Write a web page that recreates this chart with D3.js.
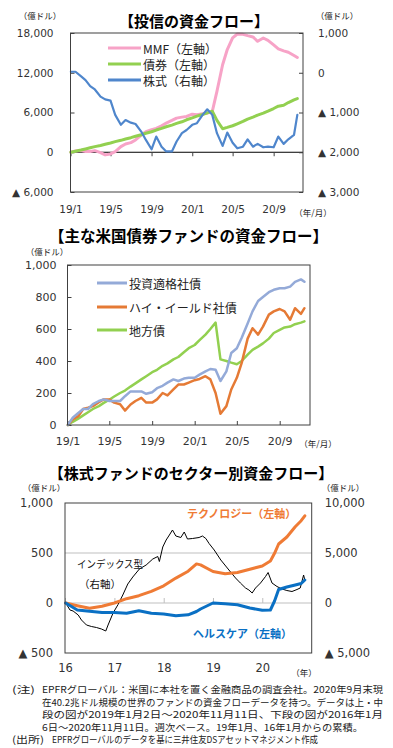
<!DOCTYPE html>
<html>
<head>
<meta charset="utf-8">
<script src="https://cdn.jsdelivr.net/npm/d3@7"></script>
<style>
  body { margin: 0; background: #fff; }
  svg text { font-family: "Noto Sans CJK JP", "DejaVu Sans", sans-serif; }
  .num text, text.num { font-family: "DejaVu Sans", sans-serif; fill: #333; }
</style>
</head>
<body>
<svg id="chart" width="393" height="748"></svg>
<script>
// ---- data ----
// half-monthly dates, 2019/1/2 - 2020/11/11 (top and middle panels)
const flowDates = [
  '2019-01-02','2019-01-16','2019-02-01','2019-02-15','2019-03-01','2019-03-15','2019-04-01','2019-04-15',
  '2019-05-01','2019-05-15','2019-06-01','2019-06-15','2019-07-01','2019-07-15','2019-08-01','2019-08-15',
  '2019-09-01','2019-09-15','2019-10-01','2019-10-15','2019-11-01','2019-11-15','2019-12-01','2019-12-15',
  '2020-01-01','2020-01-15','2020-02-01','2020-02-15','2020-03-01','2020-03-15','2020-04-01','2020-04-15',
  '2020-05-01','2020-05-15','2020-06-01','2020-06-15','2020-07-01','2020-07-15','2020-08-01','2020-08-15',
  '2020-09-01','2020-09-15','2020-10-01','2020-10-15','2020-11-01','2020-11-11'
];
// top panel (left axis)
const mmf = [0,200,250,100,100,250,-50,-400,-250,100,850,1250,1450,1850,2600,3100,3400,3600,4000,4400,
  4800,5150,5300,5400,5750,5650,5800,5900,6150,9200,13200,15500,17250,17850,17800,17600,17400,16750,17250,16900,
  16200,15600,15300,15100,14600,14300];
const bondFunds = [0,160,330,500,680,850,1030,1210,1400,1600,1800,2000,2200,2420,2650,2870,3100,3350,3600,3850,
  4100,4350,4600,4900,5200,5450,5700,5950,6200,4800,3550,3750,4000,4300,4650,5000,5300,5600,5900,6200,
  6600,6950,7100,7500,7900,8100];
// top panel (right axis)
const equityFunds = [25,25,-85,-185,-335,-420,-600,-670,-700,-1060,-1310,-1190,-1255,-1290,-1480,-1690,-1925,-1605,-1860,-1980,
  -1980,-1730,-1520,-1440,-1310,-1270,-1060,-920,-1060,-1520,-1840,-1505,-1760,-1900,-1860,-1675,-1860,-1790,-1875,-1860,
  -1875,-1605,-1790,-1675,-1565,-1060];
// middle panel
const igCorp = [0,45,75,100,100,130,150,160,150,150,150,180,210,210,210,195,205,230,245,265,
  285,275,290,295,295,315,335,350,345,275,335,450,480,545,635,710,775,800,830,845,
  855,855,865,895,910,895];
const highYield = [0,35,55,100,108,118,143,160,160,140,130,90,128,150,170,140,140,160,200,185,
  222,253,253,265,280,288,305,285,200,70,118,222,295,388,540,605,565,615,690,710,
  725,710,658,730,695,730];
const muniBonds = [0,20,40,60,80,100,118,138,158,178,200,215,240,260,285,305,330,345,370,385,
  410,425,455,480,500,530,565,600,640,410,400,390,380,400,440,470,490,510,540,575,
  595,610,615,630,640,648];

// bottom panel: sector funds (left axis)
const sectorDates = ['2016-01-06','2016-04-01','2016-07-01','2016-10-01','2017-01-01','2017-04-01','2017-07-01',
  '2017-10-01','2018-01-01','2018-04-01','2018-07-01','2018-09-01','2018-10-01','2019-01-01','2019-04-01',
  '2019-07-01','2019-10-01','2020-01-01','2020-03-01','2020-04-01','2020-05-01','2020-07-01','2020-09-01',
  '2020-10-15','2020-11-11'];
const technology = [0,-27,-53,-33,0,43,73,116,172,249,318,391,381,315,292,305,338,370,420,497,590,660,763,823,872];
const healthcare = [0,-70,-83,-95,-95,-102,-78,-102,-110,-127,-118,-85,-60,0,-7,-17,-50,-73,-70,20,135,160,180,195,230];
// bottom panel: index funds (right axis)
const indexDates = ['2016-01-06','2016-02-07','2016-03-01','2016-04-08','2016-05-02','2016-06-08','2016-07-15',
  '2016-08-21','2016-09-27','2016-10-29','2016-11-15','2016-12-22','2017-01-28','2017-03-04','2017-04-10',
  '2017-05-17','2017-07-05','2017-08-24','2017-10-12','2017-11-18','2017-11-30','2017-12-25','2018-01-19',
  '2018-02-12','2018-03-07','2018-04-01','2018-05-08','2018-06-02','2018-06-26','2018-08-02','2018-09-20',
  '2018-10-15','2018-11-09','2018-12-03','2019-01-10','2019-02-28','2019-04-29','2019-06-17','2019-07-23',
  '2019-08-30','2019-09-24','2019-10-18','2019-11-12','2019-12-19','2020-01-25','2020-02-13','2020-03-13',
  '2020-04-19','2020-05-26','2020-07-01','2020-08-08','2020-09-14','2020-10-08','2020-11-02','2020-11-11'];
const indexFunds = [0,-700,-800,-1200,-1700,-2200,-2350,-2450,-2600,-2800,-2200,-1000,-150,800,1900,
  2600,3400,3800,4400,4650,4150,5600,6300,6800,7300,6700,6550,7100,6400,6450,6550,
  6700,6450,5950,5300,4300,3300,2500,2000,1500,1300,1000,1500,2000,2650,3050,2000,
  1650,1400,1250,1150,1350,1500,2800,2300];

// axis ticks / labels
const topLeftTicks = [-6000, 0, 6000, 12000, 18000];
const topRightTicks = [-3000, -2000, -1000, 0, 1000];
const midTicks = [0, 200, 400, 600, 800, 1000];
const botLeftTicks = [-500, 0, 500, 1000];
const botRightTicks = [-5000, 0, 5000, 10000];
const monthTicks = ['2019-01-01','2019-05-01','2019-09-01','2020-01-01','2020-05-01','2020-09-01'];
const yearTicks = ['2016-01-01','2017-01-01','2018-01-01','2019-01-01','2020-01-01'];

const notes = [
  ['(注)', 'EPFRグローバル：米国に本社を置く金融商品の調査会社。2020年9月末現'],
  ['', '在40.2兆ドル規模の世界のファンドの資金フローデータを持つ。データは上・中'],
  ['', '段の図が2019年1月2日～2020年11月11日、下段の図が2016年1月'],
  ['', '6日～2020年11月11日。週次ベース。19年1月、16年1月からの累積。'],
  ['(出所)', 'EPFRグローバルのデータを基に三井住友DSアセットマネジメント作成']
];
const noteWidths = [341, 341, 341, 321, 266];

// ---- drawing ----
const svg = d3.select('#chart');
const parse = d3.timeParse('%Y-%m-%d');
const fmt = (v) => (v < 0 ? '▲ ' + d3.format(',')(-v) : d3.format(',')(v));
const monthFmt = (d) => d3.timeFormat('%y')(d) + '/' + (d.getMonth() + 1);

function drawLine(dates, values, x, y, color, width) {
  const pts = dates.map((d, i) => [parse(d), values[i]]);
  svg.append('path')
    .attr('d', d3.line().x((p) => x(p[0])).y((p) => y(p[1]))(pts))
    .attr('fill', 'none')
    .attr('stroke', color)
    .attr('stroke-width', width)
    .attr('stroke-linejoin', 'round')
    .attr('stroke-linecap', 'round');
}

function frame(x0, y0, x1, y1) {
  svg.append('rect')
    .attr('x', x0).attr('y', y0).attr('width', x1 - x0).attr('height', y1 - y0)
    .attr('fill', 'none').attr('stroke', '#404040').attr('stroke-width', 1);
}

function axis(gen, tx, ty, size, tickColor = '#404040') {
  const g = svg.append('g').attr('class', 'num').attr('transform', `translate(${tx},${ty})`).call(gen);
  g.select('.domain').remove();
  g.selectAll('line').attr('stroke', tickColor);
  g.selectAll('text').attr('font-size', size);
  return g;
}

function label(txt, x, y, size, opts = {}) {
  const t = svg.append('text')
    .attr('x', x).attr('y', y)
    .attr('font-size', size)
    .attr('text-anchor', opts.anchor || 'start')
    .attr('dominant-baseline', 'central')
    .attr('font-weight', opts.bold ? 'bold' : null)
    .attr('fill', opts.color || '#222')
    .text(txt);
  if (opts.width) t.attr('textLength', opts.width).attr('lengthAdjust', 'spacingAndGlyphs');
  return t;
}

function legendRow(x0, x1, y, color, txt) {
  svg.append('line').attr('x1', x0).attr('x2', x1).attr('y1', y).attr('y2', y)
    .attr('stroke', color).attr('stroke-width', 3);
  label(txt, x1 + 2, y, 12);
}

// ===== panel 1 =====
{
  const x = d3.scaleTime().domain([parse('2019-01-01'), parse('2020-11-28')]).range([70.5, 303]);
  const yL = d3.scaleLinear().domain([-6000, 18000]).range([192, 33]);
  const yR = d3.scaleLinear().domain([-3000, 1000]).range([192, 33]);

  label('【投信の資金フロー】', 194, 20, 15, {anchor: 'middle', bold: true, color: '#000'});
  label('（億ドル）', 40, 15, 8.5, {anchor: 'middle'});
  label('（億ドル）', 337, 15, 8.5, {anchor: 'middle'});
  label('（年/月）', 313, 212, 8.5, {anchor: 'middle'});

  svg.append('line').attr('x1', 70.5).attr('x2', 303).attr('y1', yL(0)).attr('y2', yL(0))
    .attr('stroke', '#000').attr('stroke-width', 1);
  axis(d3.axisLeft(yL).tickValues(topLeftTicks).tickSize(-4).tickPadding(17).tickFormat(fmt), 70.5, 0, 10.5);
  axis(d3.axisRight(yR).tickValues(topRightTicks).tickSize(-4).tickPadding(15).tickFormat(fmt), 303, 0, 10.5);
  const mt = monthTicks.map(parse);
  axis(d3.axisBottom(x).tickValues(mt).tickSize(4).tickFormat(''), 0, yL(0), 10);
  axis(d3.axisBottom(x).tickValues(mt).tickSize(0).tickPadding(14).tickFormat(monthFmt), 0, 192, 10.5);

  drawLine(flowDates, mmf, x, yL, '#f7a3c7', 3);
  drawLine(flowDates, bondFunds, x, yL, '#92d050', 3);
  drawLine(flowDates, equityFunds, x, yR, '#4f86cc', 2.2);
  frame(70.5, 33, 303, 192);

  legendRow(108, 141, 48, '#f7a3c7', 'MMF（左軸）');
  legendRow(108, 141, 64, '#92d050', '債券（左軸）');
  legendRow(108, 141, 80, '#4f86cc', '株式（右軸）');
}

// ===== panel 2 =====
{
  const x = d3.scaleTime().domain([parse('2019-01-01'), parse('2020-11-27')]).range([67.5, 310]);
  const y = d3.scaleLinear().domain([0, 1000]).range([425, 265]);

  label('【主な米国債券ファンドの資金フロー】', 188.5, 235, 15.5, {anchor: 'middle', bold: true, color: '#000'});
  label('（億ドル）', 47, 251, 8.5, {anchor: 'middle'});
  label('（年/月）', 318, 443, 8.5, {anchor: 'middle'});

  axis(d3.axisLeft(y).tickValues(midTicks).tickSize(-4).tickPadding(11).tickFormat(fmt), 67.5, 0, 11);
  axis(d3.axisBottom(x).tickValues(monthTicks.map(parse)).tickSize(-4).tickPadding(12).tickFormat(monthFmt), 0, 425, 11);

  drawLine(flowDates, muniBonds, x, y, '#92d050', 2.5);
  drawLine(flowDates, highYield, x, y, '#e57a35', 2.5);
  drawLine(flowDates, igCorp, x, y, '#94aad8', 2.5);
  frame(67.5, 265, 310, 425);

  legendRow(97, 127, 283, '#94aad8', '投資適格社債');
  legendRow(97, 127, 307, '#e57a35', 'ハイ・イールド社債');
  legendRow(97, 127, 330, '#92d050', '地方債');
}

// ===== panel 3 =====
{
  const x = d3.scaleTime().domain([parse('2016-01-01'), parse('2021-01-01')]).range([65, 311.7]);
  const yL = d3.scaleLinear().domain([-500, 1000]).range([653, 503]);
  const yR = d3.scaleLinear().domain([-5000, 10000]).range([653, 503]);

  label('【株式ファンドのセクター別資金フロー】', 191, 472, 15, {anchor: 'middle', bold: true, color: '#000'});
  label('（億ドル）', 44, 487, 8.5, {anchor: 'middle'});
  label('（億ドル）', 343, 487, 8.5, {anchor: 'middle'});
  label('（年）', 304, 672, 8.5, {anchor: 'middle'});

  [0, 500].forEach((v) => {
    svg.append('line').attr('x1', 65).attr('x2', 311.7).attr('y1', yL(v)).attr('y2', yL(v))
      .attr('stroke', '#bfbfbf').attr('stroke-width', 1);
  });
  axis(d3.axisLeft(yL).tickValues(botLeftTicks).tickSize(0).tickPadding(12).tickFormat(fmt), 65, 0, 11.5);
  axis(d3.axisRight(yR).tickValues(botRightTicks).tickSize(0).tickPadding(13).tickFormat(fmt), 311.7, 0, 11.5);
  const yt = yearTicks.map(parse);
  axis(d3.axisBottom(x).tickValues(yt).tickSize(-5).tickFormat(''), 0, yL(0), 10, '#bfbfbf');
  axis(d3.axisBottom(x).tickValues(yt).tickSize(0).tickPadding(11).tickFormat(d3.timeFormat('%y')), 0, 653, 11.5);

  drawLine(indexDates, indexFunds, x, yR, '#000', 1);
  drawLine(sectorDates, technology, x, yL, '#ef7b35', 3);
  drawLine(sectorDates, healthcare, x, yL, '#0a70c4', 3);
  frame(65, 503, 311.7, 653);

  label('テクノロジー（左軸）', 187, 513, 11, {bold: true, color: '#ef7b35'});
  label('ヘルスケア（左軸）', 193, 633, 11, {bold: true, color: '#0a70c4'});
  label('インデックス型', 77, 563, 10.5, {color: '#111', width: 66});
  label('（右軸）', 79, 583, 10.5, {color: '#111'});
}

// ===== notes =====
notes.forEach(([head, body], i) => {
  const yy = 689 + i * 12.6;
  if (head) label(head, 12, yy, 9.6, {width: head.length === 3 ? 23 : 32});
  label(body, i === 4 ? 52 : 42, yy, 9.6, {width: noteWidths[i]});
});
</script>
</body>
</html>
